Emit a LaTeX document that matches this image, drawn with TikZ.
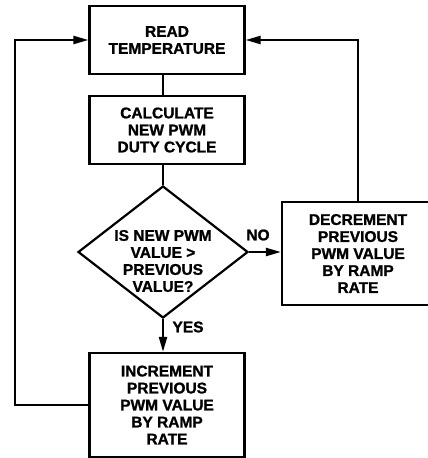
\documentclass[tikz,border=0pt]{standalone}
\usepackage{fontspec}
\setmainfont{Liberation Sans}[BoldFeatures={FakeBold=1.2}]
\usetikzlibrary{arrows.meta,shapes.geometric}

\begin{document}
\begin{tikzpicture}[x=1pt, y=-1pt,
  every node/.style={font=\fontsize{15.5}{17}\selectfont\bfseries, align=center},
  box/.style={rectangle, draw, line width=2.2pt, inner sep=0pt},
  decision/.style={diamond, draw, line width=2.2pt, minimum width=170pt, minimum height=132pt, inner sep=0pt},
  flow/.style={line width=2.2pt},
  >={Triangle[length=15pt,width=8pt]}
]
\useasboundingbox (0,0) rectangle (428,458);

% Process boxes
\node[box, minimum width=155pt, minimum height=68pt] (read) at (167,40) {READ\\TEMPERATURE};
\node[box, minimum width=155pt, minimum height=68pt] (calc) at (167,130) {CALCULATE\\NEW PWM\\DUTY CYCLE};
\node[box, minimum width=152pt, minimum height=103pt] (dec) at (358,253.5) {DECREMENT\\PREVIOUS\\PWM VALUE\\BY RAMP\\RATE};
\node[box, minimum width=155pt, minimum height=104pt] (inc) at (167,405) {INCREMENT\\PREVIOUS\\PWM VALUE\\BY RAMP\\RATE};

% Decision
\node[decision] (test) at (163,252) {};
\node (testtxt) at (163,261) {IS NEW PWM\\VALUE >\\PREVIOUS\\VALUE?};

% Connections
\coordinate (lret) at (15,405);
\draw[flow] (read.south -| test.north) -- (calc.north -| test.north);
\draw[flow] (calc.south -| test.north) -- (test.north);
\draw[flow,->] (test.east) -- (test.east -| dec.west);
\draw[flow,->] (test.south) -- (inc.north -| test.south);
\draw[flow,->] (inc.west) -- (lret) |- (read.west);
\draw[flow,->] (dec.north) |- (read.east);

% Branch labels
\node (no) at (258,235) {NO};
\node (yes) at (188,327) {YES};

\end{tikzpicture}
\end{document}
